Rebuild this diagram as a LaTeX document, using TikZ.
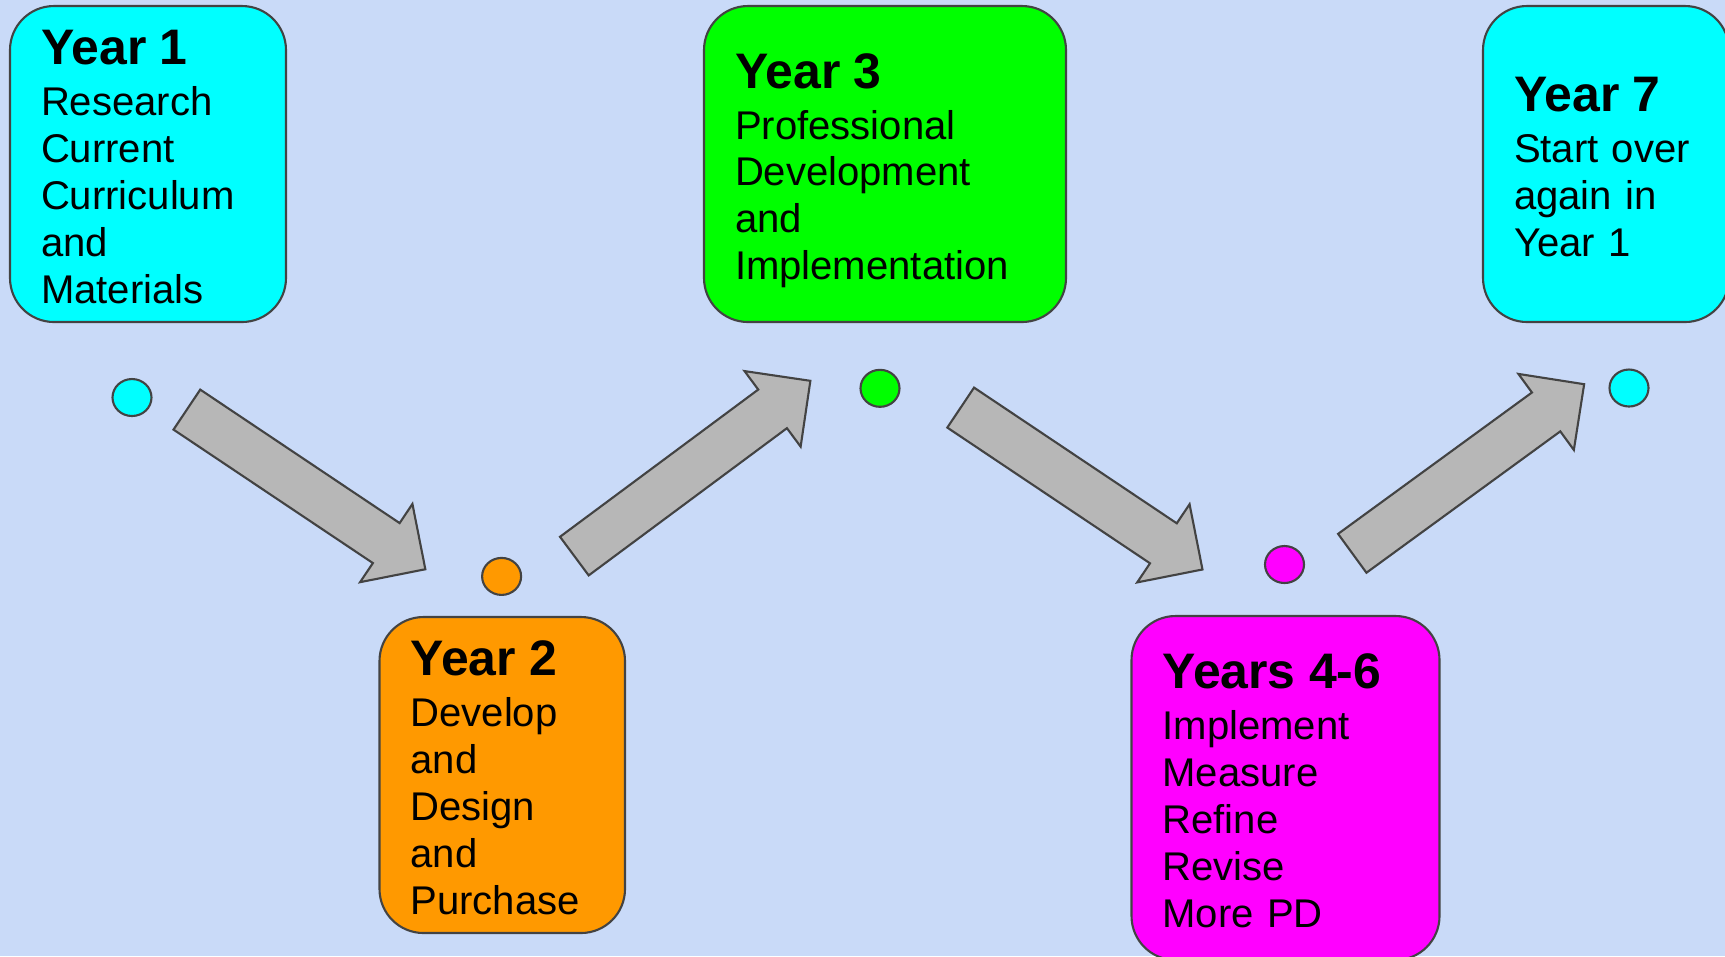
\documentclass[tikz,border=0pt]{standalone}
\usepackage{fontspec}
\setmainfont{Liberation Sans}
\usetikzlibrary{shapes.geometric,shapes.arrows}

\definecolor{slidebg}{HTML}{C9DAF8}
\definecolor{boxcyan}{HTML}{00FFFF}
\definecolor{boxorange}{HTML}{FF9900}
\definecolor{boxgreen}{HTML}{00FF00}
\definecolor{boxmagenta}{HTML}{FF00FF}
\definecolor{arrowgray}{HTML}{B7B7B7}
\definecolor{edgegray}{HTML}{434343}

\newcommand{\yeartitle}[1]{{\fontsize{14.2pt}{16pt}\selectfont\bfseries\rule{0pt}{13.9pt}#1}\\[1.1pt]}

\begin{document}
\begin{tikzpicture}[x=0.1mm, y=-0.1mm,
    yearbox/.style={draw=edgegray, line width=0.6pt, rounded corners=4.4mm,
      minimum height=31.6mm, inner xsep=3.1mm, inner ysep=0pt, align=left,
      execute at end node={\rule[-2.5pt]{0pt}{2.5pt}},
      font=\fontsize{11.4pt}{13.35pt}\selectfont},
    yeardot/.style={draw=edgegray, line width=0.6pt, ellipse, inner sep=0pt,
      minimum width=3.9mm, minimum height=3.7mm},
    blockarrow/.style={single arrow, draw=edgegray, line width=0.6pt, fill=arrowgray,
      inner xsep=0pt, inner ysep=2.3mm, minimum width=9.2mm,
      single arrow head extend=2.3mm, anchor=tail}]
  \useasboundingbox (0,0) rectangle (1725,956);
  \clip (0,0) rectangle (1725,956);
  \fill[slidebg] (0,0) rectangle (1725,956);

  % the year boxes
  \node[yearbox, fill=boxcyan, minimum width=27.6mm, text width=21.4mm] (year1) at (148,164)
    {\yeartitle{Year 1}Research\\Current\\Curriculum\\and\\Materials};
  \node[yearbox, fill=boxorange, minimum width=24.55mm, text width=18.35mm] (year2) at (502.25,775)
    {\yeartitle{Year 2}Develop\\and\\Design\\and\\Purchase};
  \node[yearbox, fill=boxgreen, minimum width=36.2mm, text width=30mm] (year3) at (885,164)
    {\yeartitle{Year 3}Professional\\Development\\and\\Implementation};
  \node[yearbox, fill=boxmagenta, minimum width=30.8mm, minimum height=34.4mm, text width=24.6mm] (year46) at (1285.5,788)
    {\yeartitle{Years 4-6}Implement\\Measure\\Refine\\Revise\\More PD};
  \node[yearbox, fill=boxcyan, minimum width=24.6mm, text width=18.4mm] (year7) at (1606,164)
    {\yeartitle{Year 7}Start over\\again in\\Year 1};

  % the dots on the path
  \begin{scope}[every node/.style={yeardot}]
    \node[fill=boxcyan] (dot1) at (132,397.5) {};
    \node[fill=boxorange] (dot2) at (501.6,576.4) {};
    \node[fill=boxgreen] (dot3) at (880,388.3) {};
    \node[fill=boxmagenta] (dot46) at (1284.5,564.5) {};
    \node[fill=boxcyan] (dot7) at (1629,388) {};
  \end{scope}

  % block arrows between the dots
  \begin{scope}[every node/.style={blockarrow}]
    \node[rotate=-33.8, minimum height=28.7mm] (arr12) at (186,409) {};
    \node[rotate=36.6, minimum height=29.4mm] (arr23) at (573.5,556.7) {};
    \node[rotate=-33.8, minimum height=29.1mm] (arr34) at (959.8,407) {};
    \node[rotate=36.1, minimum height=28.7mm] (arr47) at (1351.4,553.9) {};
  \end{scope}
\end{tikzpicture}
\end{document}
